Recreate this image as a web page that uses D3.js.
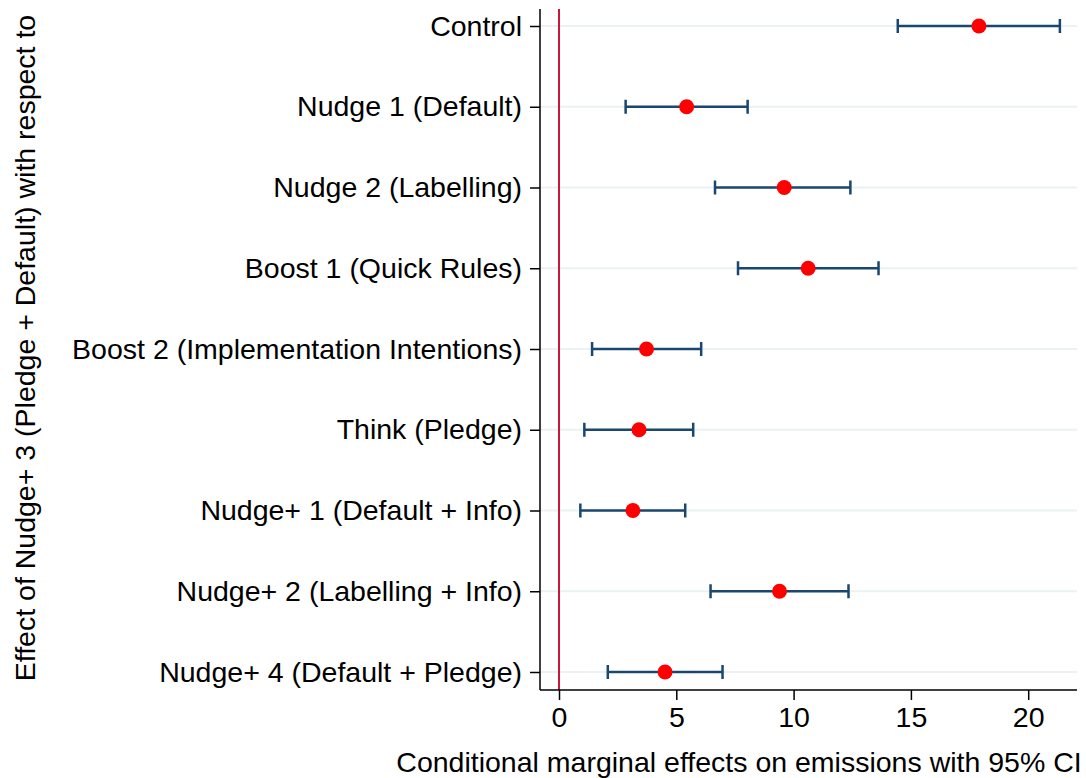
<!DOCTYPE html>
<html>
<head>
<meta charset="utf-8">
<title>Marginal effects</title>
<script src="https://d3js.org/d3.v7.min.js"></script>
<style>
  body { margin: 0; background: #fff; }
  svg { display: block; font-family: "Liberation Sans", Arial, sans-serif; }
</style>
</head>
<body>
<svg></svg>
<script>
// rows, top to bottom
const categories = [
  "Control",
  "Nudge 1 (Default)",
  "Nudge 2 (Labelling)",
  "Boost 1 (Quick Rules)",
  "Boost 2 (Implementation Intentions)",
  "Think (Pledge)",
  "Nudge+ 1 (Default + Info)",
  "Nudge+ 2 (Labelling + Info)",
  "Nudge+ 4 (Default + Pledge)"
];
const estimates = [17.9, 5.44, 9.60, 10.62, 3.73, 3.41, 3.15, 9.40, 4.52];
const lower = [14.44, 2.84, 6.65, 7.63, 1.41, 1.08, 0.91, 6.46, 2.08];
const upper = [21.35, 8.04, 12.42, 13.62, 6.06, 5.72, 5.38, 12.34, 6.97];
const xTicks = [0, 5, 10, 15, 20];
const xTitle = "Conditional marginal effects on emissions with 95% CI";
const yTitle = "Effect of Nudge+ 3 (Pledge + Default) with respect to";

const width = 1086, height = 778;
const plotLeft = 540, plotRight = 1077, plotTop = 9, plotBottom = 690;
const fontSize = 28.5;

const svg = d3.select("svg").attr("width", width).attr("height", height);

const x = d3.scaleLinear().domain([-0.81, 22.08]).range([plotLeft, plotRight]);
const y = d3.scalePoint().domain(categories).range([26, 672]);

const rows = categories.map((c, i) => ({ c, est: estimates[i], lo: lower[i], hi: upper[i] }));

// gridlines
svg.append("g").selectAll("line").data(categories).join("line")
  .attr("x1", plotLeft).attr("x2", plotRight)
  .attr("y1", d => y(d)).attr("y2", d => y(d))
  .attr("stroke", "#eaf2f3").attr("stroke-width", 2);

// reference line at zero
svg.append("line")
  .attr("x1", x(0)).attr("x2", x(0)).attr("y1", plotTop).attr("y2", plotBottom)
  .attr("stroke", "#c8163c").attr("stroke-width", 2);

// y axis
const yAxis = svg.append("g").attr("transform", `translate(${plotLeft},0)`)
  .call(d3.axisLeft(y).tickSize(10).tickPadding(8));
yAxis.select(".domain").remove();
yAxis.append("line").attr("x1", 0).attr("x2", 0).attr("y1", plotTop).attr("y2", plotBottom)
  .attr("stroke", "#000").attr("stroke-width", 1.5);
yAxis.selectAll(".tick line").attr("stroke", "#000").attr("stroke-width", 1.5);
yAxis.selectAll(".tick text").attr("font-size", fontSize).attr("fill", "#000")
  .attr("font-family", "Liberation Sans, Arial, sans-serif");

// x axis
const xAxis = svg.append("g").attr("transform", `translate(0,${plotBottom})`)
  .call(d3.axisBottom(x).tickValues(xTicks).tickSize(10).tickPadding(7));
xAxis.select(".domain").remove();
xAxis.append("line").attr("x1", plotLeft).attr("x2", plotRight).attr("y1", 0).attr("y2", 0)
  .attr("stroke", "#000").attr("stroke-width", 1.5);
xAxis.selectAll(".tick line").attr("stroke", "#000").attr("stroke-width", 1.5);
xAxis.selectAll(".tick text").attr("font-size", fontSize).attr("fill", "#000")
  .attr("font-family", "Liberation Sans, Arial, sans-serif");

// confidence intervals
const ci = svg.append("g").attr("stroke", "#1a476f").attr("stroke-width", 2.5);
ci.selectAll("line.bar").data(rows).join("line").attr("class", "bar")
  .attr("x1", d => x(d.lo)).attr("x2", d => x(d.hi))
  .attr("y1", d => y(d.c)).attr("y2", d => y(d.c));
ci.selectAll("line.capl").data(rows).join("line").attr("class", "capl")
  .attr("x1", d => x(d.lo)).attr("x2", d => x(d.lo))
  .attr("y1", d => y(d.c) - 7).attr("y2", d => y(d.c) + 7);
ci.selectAll("line.capr").data(rows).join("line").attr("class", "capr")
  .attr("x1", d => x(d.hi)).attr("x2", d => x(d.hi))
  .attr("y1", d => y(d.c) - 7).attr("y2", d => y(d.c) + 7);

// point estimates
svg.append("g").selectAll("circle").data(rows).join("circle")
  .attr("cx", d => x(d.est)).attr("cy", d => y(d.c)).attr("r", 7.5)
  .attr("fill", "#ff0000");

// titles
svg.append("text").attr("x", 739).attr("y", 772).attr("text-anchor", "middle")
  .attr("font-size", fontSize).text(xTitle);
svg.append("text").attr("transform", "translate(35,348) rotate(-90)")
  .attr("text-anchor", "middle").attr("font-size", fontSize).text(yTitle);
</script>
</body>
</html>
